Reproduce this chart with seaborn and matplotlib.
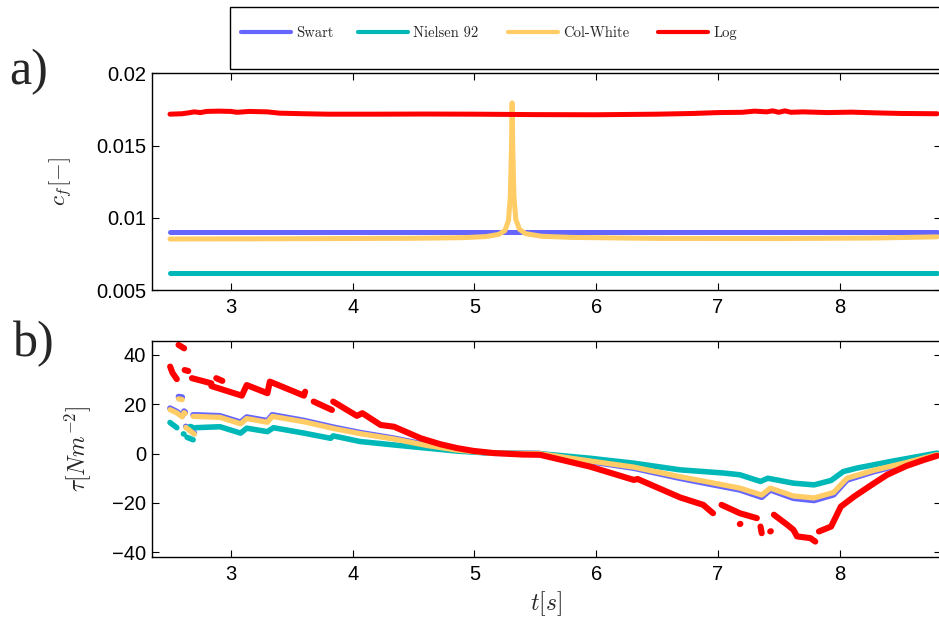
import numpy as np
import pandas as pd
import seaborn as sns
import matplotlib.pyplot as plt
from matplotlib.lines import Line2D
from matplotlib.patches import Rectangle

nan = np.nan

# ---- panel a) friction coefficient c_f ----
swart_cf_t = [2.50, 8.80]
swart_cf = [0.0090, 0.0090]

nielsen_cf_t = [2.50, 8.80]
nielsen_cf = [0.00615, 0.00615]

colwhite_cf_t = [2.50, 3.50, 4.50, 4.90, 5.10, 5.20, 5.25, 5.28, 5.295, 5.305,
                 5.31, 5.315, 5.325, 5.34, 5.37, 5.42, 5.55, 5.80, 6.50, 7.50,
                 8.30, 8.80]
colwhite_cf = [0.00853, 0.00855, 0.00858, 0.00862, 0.00870, 0.00885, 0.00910,
               0.00980, 0.01150, 0.01500, 0.01795, 0.01500, 0.01150, 0.00990,
               0.00920, 0.00890, 0.00872, 0.00864, 0.00857, 0.00856, 0.00860,
               0.00868]

log_cf_t = [2.50, 2.60, 2.65, 2.70, 2.75, 2.80, 2.90, 3.00, 3.05, 3.15, 3.30,
            3.40, 3.60, 3.80, 4.20, 4.60, 5.00, 5.50, 6.00, 6.50, 6.80, 7.00,
            7.20, 7.30, 7.40, 7.45, 7.50, 7.55, 7.60, 7.70, 7.90, 8.10, 8.30,
            8.50, 8.80]
log_cf = [0.01717, 0.01720, 0.01726, 0.01733, 0.01728, 0.01736, 0.01738,
          0.01736, 0.01730, 0.01736, 0.01733, 0.01724, 0.01720, 0.01717,
          0.01717, 0.01718, 0.01717, 0.01714, 0.01713, 0.01717, 0.01722,
          0.01728, 0.01730, 0.01738, 0.01733, 0.01740, 0.01730, 0.01740,
          0.01730, 0.01733, 0.01728, 0.01731, 0.01726, 0.01722, 0.01720]

# ---- panel b) bed shear stress tau (nan = gap in the record) ----
swart_tau_t = [2.50, 2.556, 2.60, nan, 2.57, 2.60, nan, 2.615, 2.625, nan,
               2.63, 2.70, nan,
               2.69, 2.91, 3.08, 3.13, 3.30, 3.34, 3.60, 3.84, 4.06, 4.34,
               4.61, 4.86, 5.13, 5.53, 5.95, 6.31, 6.69, 6.97, 7.18, 7.36,
               7.43, 7.62, 7.79, 7.95, 8.06, 8.28, 8.55, 8.80]
swart_tau = [18.4, 17.0, 15.3, nan, 23.1, 22.9, nan, 17.2, 16.8, nan,
             11.0, 8.3, nan,
             15.7, 15.3, 12.7, 14.8, 13.3, 15.7, 13.4, 10.7, 8.5, 6.2,
             3.5, 1.5, 0.2, 0.0, -3.2, -5.9, -10.0, -12.7, -14.7, -17.7,
             -14.7, -18.1, -19.0, -16.7, -10.7, -7.3, -3.9, -0.5]

nielsen_tau_t = [2.50, 2.556, nan, 2.61, 2.615, nan, 2.64, 2.69, nan,
                 2.665, 2.68, nan,
                 2.71, 2.91, 3.08, 3.13, 3.30, 3.35, 3.60, 3.82, 3.84, 4.06,
                 4.34, 4.61, 4.86, 5.13, 5.53, 5.95, 6.31, 6.69, 7.05, 7.18,
                 7.35, 7.41, 7.62, 7.79, 7.93, 8.03, 8.14, 8.42, 8.80]
nielsen_tau = [12.6, 10.5, nan, 8.0, 7.9, nan, 6.6, 5.6, nan,
               11.0, 10.8, nan,
               10.5, 10.9, 8.3, 10.3, 8.9, 10.5, 8.3, 6.2, 7.2, 4.9,
               3.5, 2.2, 1.0, 0.2, 0.0, -1.9, -3.9, -6.6, -7.9, -8.6,
               -11.3, -10.0, -12.0, -12.7, -10.9, -7.3, -5.9, -3.2, 0.2]

colwhite_tau_t = [2.50, 2.556, 2.60, nan, 2.57, 2.60, nan, 2.615, 2.625, nan,
                  2.63, 2.70, nan,
                  2.69, 2.91, 3.08, 3.13, 3.30, 3.34, 3.60, 3.84, 4.06, 4.34,
                  4.61, 4.86, 5.13, 5.53, 5.95, 6.31, 6.69, 6.97, 7.18, 7.36,
                  7.43, 7.62, 7.79, 7.95, 8.06, 8.28, 8.55, 8.80]
colwhite_tau = [17.8, 16.5, 14.9, nan, 22.2, 21.9, nan, 16.6, 16.2, nan,
                10.6, 7.9, nan,
                15.1, 14.7, 12.1, 14.2, 12.7, 15.1, 12.9, 10.2, 8.1, 5.9,
                3.3, 1.4, 0.2, 0.0, -3.0, -5.5, -9.4, -12.0, -14.0, -16.8,
                -14.0, -17.2, -18.0, -15.8, -10.0, -6.8, -3.6, -0.4]

log_tau_t = [2.501, 2.52, 2.556, nan, 2.57, 2.616, nan, 2.62, 2.65, nan,
             2.68, 2.84, nan, 2.88, 2.93, nan,
             2.84, 3.09, 3.13, 3.30, 3.32, 3.60, 3.61, nan,
             3.68, 3.83, nan,
             3.84, 4.035, 4.08, 4.23, 4.34, 4.56, 4.72, 4.86, 4.99, 5.16,
             5.40, 5.54, 5.95, 6.31, 6.34, 6.69, 6.88, 6.91, 6.96, nan,
             7.03, 7.18, 7.32, nan, 7.18, 7.185, nan, 7.35, 7.36, nan,
             7.43, 7.435, nan,
             7.46, 7.57, 7.62, 7.65, 7.76, 7.80, nan,
             7.83, 7.93, 8.01, 8.12, 8.25, 8.39, 8.55, 8.69, 8.80]
log_tau = [35.3, 32.8, 30.2, nan, 44.1, 42.7, nan, 33.9, 33.5, nan,
           30.6, 28.5, nan, 30.6, 29.5, nan,
           27.4, 23.5, 27.8, 24.5, 29.2, 23.5, 25.1, nan,
           21.1, 17.7, nan,
           21.1, 15.3, 16.4, 11.6, 10.9, 6.2, 3.8, 2.2, 1.1, 0.2,
           -0.4, -0.5, -5.3, -10.7, -10.3, -17.8, -20.8, -22.1, -24.2, nan,
           -20.8, -24.2, -26.2, nan, -28.6, -28.5, nan, -29.6, -32.3, nan,
           -31.6, -31.5, nan,
           -24.8, -28.9, -30.9, -33.6, -34.3, -35.7, nan,
           -31.6, -29.6, -21.5, -17.4, -13.1, -8.6, -5.0, -2.6, -0.9]

series_names = ["Swart", "Nielsen 92", "Col-White", "Log"]
series_colors = ["#6666ff", "#00b8b8", "#ffcc66", "#ff0000"]

x_ticks = [3, 4, 5, 6, 7, 8]
cf_ticks = [0.005, 0.01, 0.015, 0.02]
cf_tick_labels = ["0.005", "0.01", "0.015", "0.02"]
tau_ticks = [-40, -20, 0, 20, 40]


def to_segments(t, v):
    df = pd.DataFrame({"t": t, "v": v})
    df["seg"] = df["t"].isna().cumsum()
    return df.dropna()


sns.set_theme(style="white")
plt.rcParams.update({
    "font.family": ["Liberation Sans", "DejaVu Sans"],
    "mathtext.fontset": "cm",
    "axes.edgecolor": "black",
    "axes.linewidth": 1.0,
    "xtick.direction": "in",
    "ytick.direction": "in",
    "xtick.major.size": 5,
    "ytick.major.size": 5,
    "xtick.major.width": 0.8,
    "ytick.major.width": 0.8,
    "xtick.color": "black",
    "ytick.color": "black",
    "xtick.labelsize": 14.5,
    "ytick.labelsize": 14.5,
})

fig = plt.figure(figsize=(9.39, 6.19), dpi=100)
ax1 = fig.add_axes([0.1616, 0.5315, 0.8402, 0.3501])
ax2 = fig.add_axes([0.1616, 0.1000, 0.8402, 0.3492])

line_kw = dict(estimator=None, sort=False, legend=False,
               solid_capstyle="round", solid_joinstyle="round")

top_data = [(swart_cf_t, swart_cf), (nielsen_cf_t, nielsen_cf),
            (colwhite_cf_t, colwhite_cf), (log_cf_t, log_cf)]
for (t, v), c in zip(top_data, series_colors):
    sns.lineplot(x=t, y=v, ax=ax1, color=c, lw=3.6, **line_kw)

bottom_data = [(swart_tau_t, swart_tau, 4.2), (nielsen_tau_t, nielsen_tau, 4.0),
               (colwhite_tau_t, colwhite_tau, 3.8), (log_tau_t, log_tau, 4.4)]
for (t, v, w), c in zip(bottom_data, series_colors):
    df = to_segments(t, v)
    sns.lineplot(data=df, x="t", y="v", units="seg", ax=ax2, color=c, lw=w,
                 **line_kw)

for ax in (ax1, ax2):
    ax.set_xlim(2.35, 8.83)
    ax.set_xticks(x_ticks)
    ax.tick_params(top=True, right=True, bottom=True, left=True)
    ax.tick_params(axis="x", pad=6)
    ax.tick_params(axis="y", pad=4)
    for s in ax.spines.values():
        s.set_color("black")

ax1.set_ylim(0.005, 0.02)
ax1.set_yticks(cf_ticks)
ax1.set_yticklabels(cf_tick_labels)
ax1.set_ylabel(r"$c_f[-]$", fontsize=16.5)
ax1.yaxis.set_label_coords(-0.097, 0.5)
ax1.set_xlabel("")

ax2.set_ylim(-42.0, 45.7)
ax2.set_yticks(tau_ticks)
ax2.set_ylabel(r"$\tau[Nm^{-2}]$", fontsize=17)
ax2.yaxis.set_label_coords(-0.074, 0.5)
ax2.set_xlabel(r"$t[s]$", fontsize=17)
ax2.xaxis.set_label_coords(0.5, -0.15)

fig.text(0.010, 0.884, "a)", fontsize=36, family="Liberation Serif",
         va="center", ha="left")
fig.text(0.014, 0.444, "b)", fontsize=36, family="Liberation Serif",
         va="center", ha="left")

# one legend per entry so each sits where the original has it
legend_x = [241, 358, 508, 658]
for name, c, xp in zip(series_names, series_colors, legend_x):
    fig.legend([Line2D([], [], color=c, lw=3.0)], [name], frameon=False,
               loc="center left", bbox_to_anchor=(xp / 939, 0.947),
               prop={"family": "cmr10", "size": 10.5},
               handlelength=3.4, handletextpad=0.4,
               borderpad=0, borderaxespad=0)
fig.patches.append(Rectangle((0.2449, 0.8885), 0.77, 0.1002,
                             transform=fig.transFigure, fill=False,
                             edgecolor="black", lw=1.0))

fig.savefig("out.png", dpi=100)
